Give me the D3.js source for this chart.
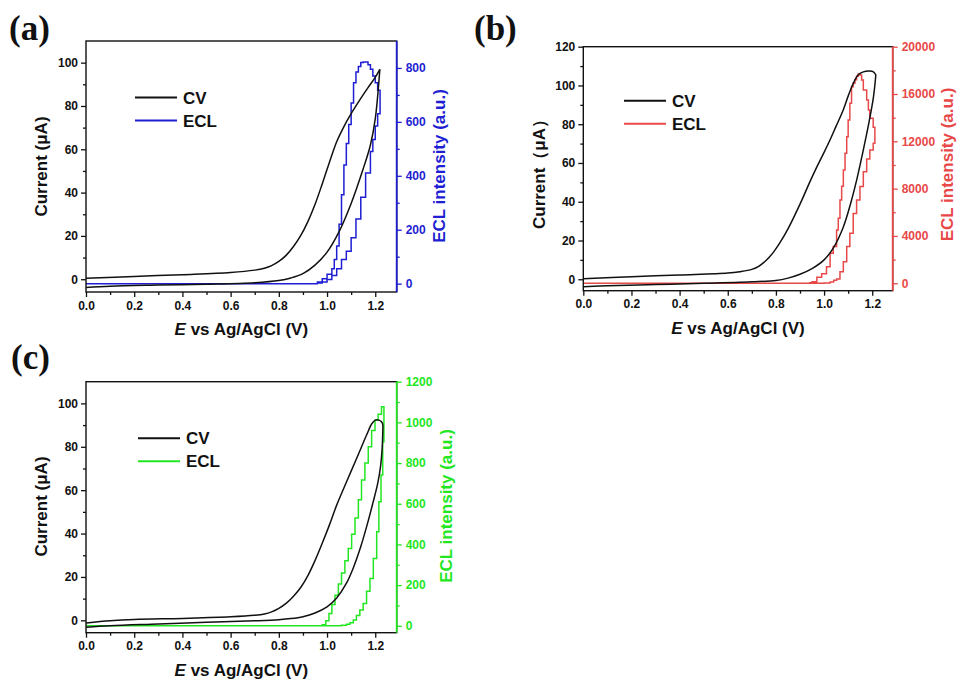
<!DOCTYPE html>
<html><head><meta charset="utf-8">
<script src="https://cdn.jsdelivr.net/npm/d3@7"></script>
<style>body{margin:0;background:#fff}svg{display:block}</style>
</head><body>
<svg id="c" width="959" height="683"></svg>
<script>
// ---------- data ----------
const xMajor = [0, 0.2, 0.4, 0.6, 0.8, 1.0, 1.2];
const xMinor = [0.1, 0.3, 0.5, 0.7, 0.9, 1.1];
const curMajorAC = [0, 20, 40, 60, 80, 100];
const curMinorAC = [10, 30, 50, 70, 90];
const curMajorB = [0, 20, 40, 60, 80, 100, 120];
const curMinorB = [10, 30, 50, 70, 90, 110];
const eclMajorA = [0, 200, 400, 600, 800];
const eclMinorA = [100, 300, 500, 700];
const eclMajorB = [0, 4000, 8000, 12000, 16000, 20000];
const eclMinorB = [2000, 6000, 10000, 14000, 18000];
const eclMajorC = [0, 200, 400, 600, 800, 1000, 1200];
const eclMinorC = [100, 300, 500, 700, 900, 1100];
const legendLabels = ["CV", "ECL"];

// panel (a): CV (E, I in µA)
const cvA_fwd = [[0,-3.8],[0.1,-3.2],[0.3,-2.7],[0.5,-2.3],[0.7,-1.6],[0.8,-0.6],[0.85,0.6],[0.9,2.6],[0.95,6.5],[1.0,12.5],[1.05,22],[1.1,35],[1.15,51],[1.18,62],[1.2,74],[1.219,96.9]];
const cvA_rev = [[1.219,96.9],[1.2,93.2],[1.17,88.5],[1.14,83.5],[1.1,76.5],[1.07,70.5],[1.04,63.5],[1.01,54],[0.98,44],[0.95,34.5],[0.92,26.5],[0.89,20],[0.86,15],[0.83,11],[0.8,8.2],[0.77,6.3],[0.74,5.1],[0.7,4.2],[0.6,3.1],[0.4,2.1],[0.2,1.3],[0,0.4]];
// panel (a): ECL (E, a.u.)
const eclA_fwd = [[0,0],[0.9,0],[0.96,2],[0.98,6],[1.0,15],[1.02,30],[1.04,55],[1.06,90],[1.08,120],[1.1,170],[1.12,240],[1.14,320],[1.16,410],[1.18,490],[1.19,535],[1.2,585],[1.21,630],[1.22,660]];
const eclA_rev = [[1.22,717],[1.21,745],[1.2,770],[1.19,795],[1.18,812],[1.17,822],[1.16,822],[1.15,820],[1.14,805],[1.13,785],[1.12,745],[1.11,670],[1.1,590],[1.09,520],[1.08,440],[1.07,330],[1.06,220],[1.05,140],[1.04,90],[1.03,55],[1.02,35],[1.0,18],[0.98,6],[0.96,0],[0,0]];

// panel (b)
const cvB_fwd = [[0,-3.8],[0.1,-3.3],[0.3,-2.7],[0.5,-2.1],[0.7,-1.3],[0.8,-0.6],[0.85,0.6],[0.9,2.6],[0.95,5.5],[1.0,10],[1.04,16.5],[1.08,27],[1.11,39],[1.135,51],[1.16,65],[1.185,80],[1.205,94],[1.215,105.5]];
const cvB_rev = [[1.215,105.5],[1.205,107],[1.19,107.4],[1.163,107],[1.142,105.5],[1.121,101],[1.1,94.5],[1.08,87.5],[1.05,79],[1.025,72],[1.0,65.5],[0.97,58],[0.94,50],[0.91,41.5],[0.88,33.5],[0.85,26],[0.82,19.5],[0.79,14],[0.76,9.8],[0.73,6.8],[0.7,5.1],[0.65,3.9],[0.6,3.2],[0.4,2.2],[0.2,1.3],[0,0.3]];
const eclB_fwd = [[0,0],[0.95,0],[1.0,30],[1.025,100],[1.04,250],[1.052,350],[1.066,980],[1.08,1820],[1.094,3100],[1.107,4220],[1.121,5900],[1.135,7040],[1.149,8170],[1.163,9430],[1.177,10500],[1.19,11270],[1.204,11830],[1.211,12110]];
const eclB_rev = [[1.211,13200],[1.204,13950],[1.19,14650],[1.184,15490],[1.177,16340],[1.163,17190],[1.156,17600],[1.149,17690],[1.142,17500],[1.135,17200],[1.128,16900],[1.121,16620],[1.114,15220],[1.107,13800],[1.1,12390],[1.094,10990],[1.087,9580],[1.08,8200],[1.073,7040],[1.066,5500],[1.059,4500],[1.052,3100],[1.038,2540],[1.025,1400],[1.01,800],[0.99,500],[0.97,135],[0.95,40],[0.94,0],[0,0]];

// panel (c)
const cvC_fwd = [[0,-3.2],[0.1,-2.5],[0.3,-1.7],[0.5,-0.9],[0.7,-0.2],[0.8,0.3],[0.85,0.8],[0.9,1.7],[0.95,3.4],[1.0,6.2],[1.04,10.3],[1.08,17],[1.11,24.5],[1.14,34],[1.17,45.5],[1.19,54],[1.21,63],[1.222,71],[1.229,80],[1.232,90]];
const cvC_rev = [[1.232,90],[1.226,91.5],[1.215,92.3],[1.2,92.3],[1.185,90.5],[1.164,85.4],[1.123,74.7],[1.081,63.9],[1.04,53.1],[1.01,44],[0.98,35.5],[0.95,27.5],[0.92,20.5],[0.89,15],[0.86,11],[0.83,7.8],[0.8,5.5],[0.77,3.9],[0.74,2.9],[0.7,2.3],[0.6,1.6],[0.4,0.9],[0.2,0.4],[0.1,-0.2],[0,-1.2]];
const eclC_fwd = [[0,0],[1.04,0],[1.06,3],[1.081,7],[1.095,15],[1.109,28],[1.122,50],[1.136,77],[1.15,110],[1.164,170],[1.178,233],[1.192,331],[1.206,462],[1.215,610],[1.224,741],[1.231,905],[1.236,1077]];
const eclC_rev = [[1.236,1077],[1.226,1040],[1.212,1010],[1.199,960],[1.185,880],[1.171,800],[1.157,717],[1.143,620],[1.13,530],[1.116,450],[1.102,380],[1.088,320],[1.074,260],[1.06,205],[1.047,150],[1.033,105],[1.02,60],[1.008,25],[0.995,5],[0.98,0],[0,0]];

// ---------- drawing ----------
const svg = d3.select("#c");
const FONT = "'Liberation Sans', Arial, sans-serif";

function panel(o) {
  const g = svg.append("g");
  const x = d3.scaleLinear().domain(o.xDom).range([o.L, o.R]);
  const yL = d3.scaleLinear().domain(o.yLDom).range([o.B, o.T]);
  const yR = d3.scaleLinear().domain(o.yRDom).range([o.B, o.T]);
  const clipId = "clip" + o.id;
  svg.append("clipPath").attr("id", clipId).append("rect")
    .attr("x", o.L).attr("y", o.T).attr("width", o.R - o.L).attr("height", o.B - o.T);

  const plot = g.append("g").attr("clip-path", `url(#${clipId})`);
  const eclLine = d3.line().x(d => x(d[0])).y(d => yR(d[1])).curve(d3.curveStepAfter);
  const cvLine = d3.line().x(d => x(d[0])).y(d => yL(d[1])).curve(d3.curveCatmullRom.alpha(0.5));
  plot.append("path").attr("d", eclLine(o.eclFwd.concat(o.eclRev)))
    .attr("fill", "none").attr("stroke", o.color).attr("stroke-width", 1.5);
  [o.cvFwd, o.cvRev].forEach(s => plot.append("path").attr("d", cvLine(s))
    .attr("fill", "none").attr("stroke", "#111").attr("stroke-width", 1.5));

  // frame
  g.append("rect").attr("x", o.L).attr("y", o.T).attr("width", o.R - o.L).attr("height", o.B - o.T)
    .attr("fill", "none").attr("stroke", "#111").attr("stroke-width", 1.4);

  function styleAxis(sel, col) {
    sel.select(".domain").remove();
    sel.selectAll("line").attr("stroke", col).attr("stroke-width", 1.3);
    sel.selectAll("text").attr("fill", col).attr("font-family", FONT)
      .attr("font-weight", "bold").attr("font-size", 12);
  }
  // x axis
  const xa = g.append("g").attr("transform", `translate(0,${o.B})`)
    .call(d3.axisBottom(x).tickValues(xMajor).tickSize(5).tickPadding(4).tickFormat(d3.format(".1f")));
  styleAxis(xa, "#111");
  const xm = g.append("g").attr("transform", `translate(0,${o.B})`)
    .call(d3.axisBottom(x).tickValues(xMinor).tickSize(3).tickFormat(""));
  styleAxis(xm, "#111");
  // left axis
  const ya = g.append("g").attr("transform", `translate(${o.L},0)`)
    .call(d3.axisLeft(yL).tickValues(o.curMajor).tickSize(5).tickPadding(3).tickFormat(d3.format("d")));
  styleAxis(ya, "#111");
  const ym = g.append("g").attr("transform", `translate(${o.L},0)`)
    .call(d3.axisLeft(yL).tickValues(o.curMinor).tickSize(3).tickFormat(""));
  styleAxis(ym, "#111");
  // right axis
  g.append("line").attr("x1", o.R).attr("x2", o.R).attr("y1", o.T).attr("y2", o.B)
    .attr("stroke", o.color).attr("stroke-width", 1.8);
  const ra = g.append("g").attr("transform", `translate(${o.R},0)`)
    .call(d3.axisRight(yR).tickValues(o.eclMajor).tickSize(5).tickPadding(4).tickFormat(d3.format("d")));
  styleAxis(ra, o.color);
  const rm = g.append("g").attr("transform", `translate(${o.R},0)`)
    .call(d3.axisRight(yR).tickValues(o.eclMinor).tickSize(3).tickFormat(""));
  styleAxis(rm, o.color);

  // titles
  const xt = g.append("text").attr("x", (o.L + o.R) / 2).attr("y", o.B + 43)
    .attr("text-anchor", "middle").attr("font-family", FONT).attr("font-weight", "bold")
    .attr("font-size", 17).attr("fill", "#111");
  xt.append("tspan").attr("font-style", "italic").text("E");
  xt.append("tspan").text(" vs Ag/AgCl (V)");

  g.append("text").attr("transform", `translate(${o.ltX},${o.ltY}) rotate(-90)`)
    .attr("text-anchor", "middle").attr("font-family", FONT).attr("font-weight", "bold")
    .attr("font-size", 17).attr("fill", "#111").text(o.curTitle);
  g.append("text").attr("transform", `translate(${o.rtX},${o.rtY}) rotate(-90)`)
    .attr("text-anchor", "middle").attr("font-family", FONT).attr("font-weight", "bold")
    .attr("font-size", 17).attr("fill", o.color).text("ECL intensity (a.u.)");

  // legend
  const lg = g.append("g");
  [["#111", 0], [o.color, 1]].forEach(([c, i]) => {
    lg.append("line").attr("x1", o.legX).attr("x2", o.legX + 42)
      .attr("y1", o.legY + i * 23).attr("y2", o.legY + i * 23)
      .attr("stroke", c).attr("stroke-width", 2);
    lg.append("text").attr("x", o.legX + 48).attr("y", o.legY + i * 23 + 6)
      .attr("font-family", FONT).attr("font-weight", "bold").attr("font-size", 17)
      .attr("fill", "#111").text(legendLabels[i]);
  });

  // panel label
  g.append("text").attr("x", o.labX).attr("y", o.labY)
    .attr("font-family", "'Liberation Serif', 'Times New Roman', serif").attr("font-weight", "bold")
    .attr("font-size", 35).attr("fill", "#111").text(o.label);
}

panel({id: "a", label: "(a)", labX: 9, labY: 40, L: 86, R: 396.7, T: 41, B: 292,
  xDom: [0, 1.289], yLDom: [-5.9, 110], yRDom: [-31, 900],
  curMajor: curMajorAC, curMinor: curMinorAC, eclMajor: eclMajorA, eclMinor: eclMinorA,
  cvFwd: cvA_fwd, cvRev: cvA_rev, eclFwd: eclA_fwd, eclRev: eclA_rev, color: "#1e1ed2",
  curTitle: "Current (μA)", ltX: 47, ltY: 166.5, rtX: 445, rtY: 166,
  legX: 135, legY: 97.5});

panel({id: "b", label: "(b)", labX: 474, labY: 40, L: 583.3, R: 892.7, T: 46.7, B: 290.7,
  xDom: [0, 1.285], yLDom: [-5.9, 120], yRDom: [-630, 20000],
  curMajor: curMajorB, curMinor: curMinorB, eclMajor: eclMajorB, eclMinor: eclMinorB,
  cvFwd: cvB_fwd, cvRev: cvB_rev, eclFwd: eclB_fwd, eclRev: eclB_rev, color: "#e84848",
  curTitle: "Current（μA）", ltX: 545, ltY: 170, rtX: 953, rtY: 164.5,
  legX: 624, legY: 100.7});

panel({id: "c", label: "(c)", labX: 11, labY: 369, L: 86, R: 396.7, T: 381.7, B: 632.7,
  xDom: [0, 1.289], yLDom: [-5.7, 110], yRDom: [-34, 1200],
  curMajor: curMajorAC, curMinor: curMinorAC, eclMajor: eclMajorC, eclMinor: eclMinorC,
  cvFwd: cvC_fwd, cvRev: cvC_rev, eclFwd: eclC_fwd, eclRev: eclC_rev, color: "#22e622",
  curTitle: "Current (μA)", ltX: 47, ltY: 506.5, rtX: 452, rtY: 506,
  legX: 138, legY: 438.3});
</script>
</body></html>
